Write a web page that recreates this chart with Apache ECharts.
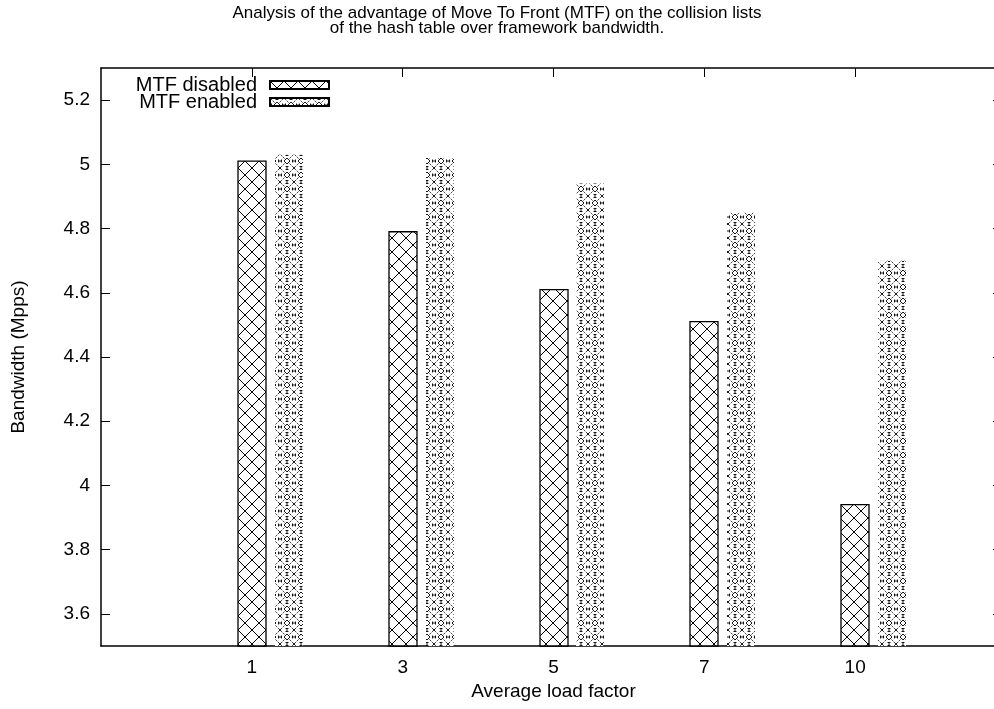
<!DOCTYPE html>
<html>
<head>
<meta charset="utf-8">
<script src="https://cdn.jsdelivr.net/npm/echarts@6/dist/echarts.min.js"></script>
<style>
html,body{margin:0;padding:0;background:#fff;}
#chart{width:994px;height:709px;}
</style>
</head>
<body>
<div id="chart"></div>
<script>
const categories = ['1', '3', '5', '7', '10'];
const mtfDisabled = [5.01, 4.79, 4.61, 4.51, 3.94];
const mtfEnabled = [5.03, 5.02, 4.94, 4.85, 4.70];
const yTickValues = [3.6, 3.8, 4.0, 4.2, 4.4, 4.6, 4.8, 5.0, 5.2];
const seriesNames = ['MTF disabled', 'MTF enabled'];

function makeCrossPattern() {
  const c = document.createElement('canvas');
  c.width = 14; c.height = 14;
  const g = c.getContext('2d');
  g.fillStyle = '#fff'; g.fillRect(0, 0, 14, 14);
  g.strokeStyle = '#000'; g.lineWidth = 1;
  g.beginPath();
  g.moveTo(-1, -1); g.lineTo(15, 15);
  g.moveTo(15, -1); g.lineTo(-1, 15);
  g.stroke();
  return c;
}
function makeFancyPattern() {
  const c = document.createElement('canvas');
  c.width = 14; c.height = 14;
  const g = c.getContext('2d');
  g.fillStyle = '#fff'; g.fillRect(0, 0, 14, 14);
  g.strokeStyle = '#000'; g.lineWidth = 0.9;
  g.beginPath();
  g.moveTo(7, 4); g.lineTo(10, 7); g.lineTo(7, 10); g.lineTo(4, 7); g.closePath();
  g.stroke();
  [[0,0],[14,0],[0,14],[14,14]].forEach(([x,y]) => {
    g.beginPath();
    g.moveTo(x-1.8, y-1.8); g.lineTo(x+1.8, y+1.8);
    g.moveTo(x+1.8, y-1.8); g.lineTo(x-1.8, y+1.8);
    g.stroke();
  });
  [[7,0],[7,14]].forEach(([x,y]) => {
    g.beginPath();
    g.moveTo(x-1.5, y-1.5); g.lineTo(x+1.5, y-1.5);
    g.moveTo(x, y-1.5); g.lineTo(x, y+1.5);
    g.moveTo(x-1.5, y+1.5); g.lineTo(x+1.5, y+1.5);
    g.stroke();
  });
  [[0,7],[14,7]].forEach(([x,y]) => {
    g.beginPath();
    g.moveTo(x-1.5, y-1.5); g.lineTo(x-1.5, y+1.5);
    g.moveTo(x-1.5, y); g.lineTo(x+1.5, y);
    g.moveTo(x+1.5, y-1.5); g.lineTo(x+1.5, y+1.5);
    g.stroke();
  });
  g.lineWidth = 0.7;
  g.beginPath();
  g.moveTo(2.6, 2.6); g.lineTo(4.6, 4.6);
  g.moveTo(11.4, 2.6); g.lineTo(9.4, 4.6);
  g.moveTo(2.6, 11.4); g.lineTo(4.6, 9.4);
  g.moveTo(11.4, 11.4); g.lineTo(9.4, 9.4);
  g.stroke();
  return c;
}

const crossFill = { image: makeCrossPattern(), repeat: 'repeat' };
const fancyFill = { image: makeFancyPattern(), repeat: 'repeat' };
const FONT = 'Liberation Sans, Arial, Helvetica, sans-serif';
const Y_MIN = 3.5, Y_MAX = 5.3;
const FS = 19;

function barRenderer(fill, shift, stroke) {
  return function (params, api) {
    const i = api.value(0), v = api.value(1);
    const top = api.coord([i + shift, v]);
    const base = api.coord([i + shift, Y_MIN]);
    const w = 28;
    return {
      type: 'rect',
      shape: { x: Math.round(top[0] - w / 2), y: top[1], width: w, height: base[1] - top[1] },
      style: { fill: fill, stroke: stroke ? '#000' : null, lineWidth: stroke ? 1.3 : 0 }
    };
  };
}

const chart = echarts.init(document.getElementById('chart'), null, { renderer: 'canvas' });
const catIdx = categories.map((c, i) => i);

const legendBase = {
  orient: 'vertical', align: 'right', right: 664, padding: 0,
  icon: 'rect', itemWidth: 59, itemHeight: 8, itemGap: 12, selectedMode: false,
  textStyle: { fontFamily: FONT, fontSize: 20, color: '#000', padding: [0, 8, 0, 0] }
};

chart.setOption({
  animation: false,
  backgroundColor: '#fff',
  textStyle: { fontFamily: FONT },
  title: {
    text: 'Analysis of the advantage of Move To Front (MTF) on the collision lists\nof the hash table over framework bandwidth.',
    left: 'center',
    top: 1,
    textStyle: { fontFamily: FONT, fontSize: 17, fontWeight: 'normal', color: '#000', lineHeight: 15, align: 'center' }
  },
  legend: [
    Object.assign({}, legendBase, { data: [seriesNames[0]], top: 75 }),
    Object.assign({}, legendBase, { data: [seriesNames[1]], top: 92 })
  ],
  grid: { left: 101, right: -12, top: 68, bottom: 63, show: false, outerBoundsMode: 'none', containLabel: false },
  xAxis: [
    {
      type: 'value', min: -1, max: 5, position: 'bottom',
      axisLine: { show: true, onZero: false, lineStyle: { color: '#000', width: 1.5 } },
      axisTick: { show: true, inside: true, length: 9, customValues: catIdx, lineStyle: { color: '#000' } },
      axisLabel: { customValues: catIdx, formatter: v => categories[Math.round(v)] || '', fontSize: FS, color: '#000', margin: 12, fontFamily: FONT },
      splitLine: { show: false },
      name: 'Average load factor', nameLocation: 'middle', nameGap: 36,
      nameTextStyle: { fontSize: FS, color: '#000', fontFamily: FONT }
    },
    {
      type: 'value', min: -1, max: 5, position: 'top',
      axisLine: { show: true, onZero: false, lineStyle: { color: '#000', width: 1.5 } },
      axisTick: { show: true, inside: true, length: 9, customValues: catIdx, lineStyle: { color: '#000' } },
      axisLabel: { show: false },
      splitLine: { show: false }
    }
  ],
  yAxis: [
    {
      type: 'value', min: Y_MIN, max: Y_MAX, position: 'left',
      axisLine: { show: true, onZero: false, lineStyle: { color: '#000', width: 1.5 } },
      axisTick: { show: true, inside: true, length: 9, customValues: yTickValues, lineStyle: { color: '#000' } },
      axisLabel: { customValues: yTickValues, formatter: v => String(Number(v.toFixed(1))), fontSize: FS, color: '#000', margin: 11, fontFamily: FONT },
      splitLine: { show: false },
      name: 'Bandwidth (Mpps)', nameLocation: 'middle', nameGap: 73, nameRotate: 90,
      nameTextStyle: { fontSize: FS, color: '#000', fontFamily: FONT }
    },
    {
      type: 'value', min: Y_MIN, max: Y_MAX, position: 'right',
      axisLine: { show: true, onZero: false, lineStyle: { color: '#000', width: 1.5 } },
      axisTick: { show: true, inside: true, length: 13, customValues: yTickValues, lineStyle: { color: '#000' } },
      axisLabel: { show: false },
      splitLine: { show: false }
    }
  ],
  series: [
    {
      name: seriesNames[0], type: 'custom', xAxisIndex: 0, yAxisIndex: 0,
      renderItem: barRenderer(crossFill, 0, true),
      itemStyle: { color: crossFill, borderColor: '#000', borderWidth: 1 },
      encode: { x: 0, y: 1 },
      data: catIdx.map(i => [i, mtfDisabled[i]])
    },
    {
      name: seriesNames[1], type: 'custom', xAxisIndex: 0, yAxisIndex: 0,
      renderItem: barRenderer(fancyFill, 0.245, false),
      itemStyle: { color: fancyFill, borderColor: '#000', borderWidth: 1 },
      encode: { x: 0, y: 1 },
      data: catIdx.map(i => [i, mtfEnabled[i]])
    }
  ]
});
</script>
</body>
</html>
